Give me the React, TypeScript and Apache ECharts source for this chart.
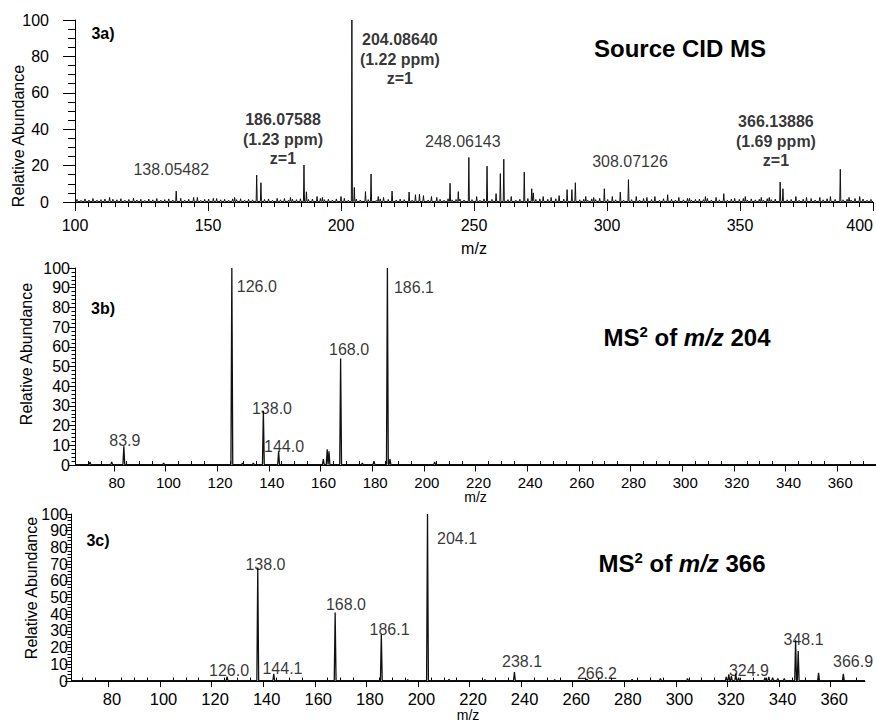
import React, { useEffect, useRef } from 'react';
import * as echarts from 'echarts';

const FONT = '"Liberation Sans", Arial, Helvetica, sans-serif';

// ---------- Panel 3a : Source CID MS ----------
const peaksA: [number, number][] = [
  [138.05, 6], [144.6, 2.5], [168.3, 14.8], [169.9, 10.6], [186.08, 20.3], [187.0, 5.6],
  [200.0, 3], [204.09, 100], [205.0, 8], [209.2, 5.7], [211.3, 15.4], [219.2, 6],
  [225.6, 5.5], [228.0, 4], [229.5, 4.2], [231.0, 3.5], [241.0, 10.3], [244.1, 5.7],
  [248.06, 24.5], [254.9, 19.7], [258.3, 4.6], [259.9, 15.6], [261.2, 23.5], [268.9, 16.5],
  [271.7, 7.3], [272.3, 5], [285.0, 6.8], [286.8, 6.8], [288.1, 10.6], [299.0, 7.3],
  [305.0, 5.5], [308.07, 12.3], [322.8, 4], [343.9, 4.6], [365.1, 11], [366.14, 7.3], [387.7, 18],
];
const minorPeaksA: [number, number][] = [
  [113, 2.5], [122, 2], [146, 2.5], [152, 2], [160, 2.5], [176, 2], [181, 2.5], [191, 3],
  [193, 2.5], [214, 3], [216, 2.5], [234, 3], [236, 2.5], [251, 3], [264, 3], [276, 3],
  [279, 2.5], [282, 3.5], [292, 3], [295, 2.5], [302, 3], [311, 3], [315, 2.5], [318, 3],
  [327, 2.5], [331, 2], [337, 3], [341, 2.5], [348, 2], [352, 3], [358, 2.5], [361, 2.5],
  [371, 3], [375, 2.5], [380, 2.5], [384, 3], [391, 2.5], [395, 3],
];
// baseline noise spikes, every 1.5 m/z from 100.75
const noiseStartA = 100.75;
const noiseStepA = 1.5;
const noiseA = [
  1.4, 0.9, 1.7, 1.1, 1.9, 1.0, 1.3, 1.6, 0.9, 1.5, 1.2, 1.8, 1.0, 1.4, 1.7, 1.1, 1.5, 0.9, 1.6, 1.2,
  1.9, 1.0, 1.3, 1.7, 1.1, 1.4, 2.0, 1.0, 1.5, 1.2, 1.8, 0.9, 1.4, 1.6, 1.1, 1.9, 1.2, 1.5, 1.0, 1.7,
  1.3, 1.8, 1.0, 1.5, 1.2, 2.1, 1.1, 1.4, 1.7, 0.9, 1.6, 1.2, 1.9, 1.0, 1.5, 1.3, 1.8, 1.1, 1.4, 1.6,
  1.0, 1.9, 1.3, 1.5, 1.1, 1.7, 1.2, 2.0, 1.0, 1.4, 1.6, 1.1, 1.8, 1.3, 1.5, 0.9, 1.7, 1.2, 1.4, 1.9,
  1.1, 1.6, 1.3, 1.8, 1.0, 1.5, 1.2, 1.7, 1.1, 2.0, 1.3, 1.5, 1.0, 1.8, 1.2, 1.4, 1.6, 1.1, 1.9, 1.3,
  1.5, 1.0, 1.7, 1.2, 1.4, 2.1, 1.1, 1.6, 1.3, 1.8, 1.0, 1.5, 1.2, 1.9, 1.1, 1.4, 1.7, 1.2, 1.5, 1.0,
  1.8, 1.3, 1.6, 1.1, 1.4, 1.9, 1.2, 1.5, 1.0, 1.7, 1.3, 2.0, 1.1, 1.4, 1.6, 1.2, 1.8, 1.0, 1.5, 1.3,
  1.7, 1.1, 1.9, 1.2, 1.4, 1.6, 1.0, 1.8, 1.3, 1.5, 1.1, 1.7, 1.2, 2.0, 1.0, 1.4, 1.6, 1.3, 1.9, 1.1,
  1.5, 1.2, 1.8, 1.0, 1.6, 1.3, 1.4, 1.9, 1.1, 1.7, 1.2, 1.5, 1.0, 1.8, 1.3, 1.6, 1.1, 2.0, 1.2, 1.4,
  1.7, 1.0, 1.5, 1.3, 1.9, 1.1, 1.6, 1.2, 1.8, 1.0, 1.4, 1.7, 1.2, 1.5, 1.1, 1.9, 1.3, 1.6, 1.0, 1.4,
];
const annA: [number, string][] = [
  [138.05, '138.05482'],
  [186.08, '186.07588\n(1.23 ppm)\nz=1'],
  [204.09, '204.08640\n(1.22 ppm)\nz=1'],
  [248.06, '248.06143'],
  [308.07, '308.07126'],
  [366.14, '366.13886\n(1.69 ppm)\nz=1'],
];
const annAOffset: [number, number][] = [[-5, -22], [-21, -25.6], [48, 39], [-6, -16], [1.5, -18.5], [-7, -47.7]];
const annABold = [false, true, true, false, false, true];

// ---------- Panel 3b : MS2 of m/z 204 ----------
const peaksB: [number, number][] = [
  [70.8, 1.5], [79.2, 1.5], [83.9, 9.5], [99.3, 1], [125.7, 100], [129.8, 1], [134, 1],
  [137.9, 27.5], [143.8, 7], [161.1, 3], [162.6, 8], [163.3, 7], [167.8, 54], [176.2, 1],
  [180.7, 2], [185.9, 100], [186.9, 3], [204.2, 1.5],
];
const annB: [number, string][] = [
  [83.9, '83.9'], [125.7, '126.0'], [137.9, '138.0'], [143.8, '144.0'], [167.8, '168.0'], [185.9, '186.1'],
];
const annBOffset: [number, number][] = [[1, -6], [25, 18], [8.6, -2], [5.4, -5], [8.4, -9.6], [26.6, 19.5]];

// ---------- Panel 3c : MS2 of m/z 366 ----------
const peaksC: [number, number][] = [
  [126.0, 2.6], [137.9, 68], [144.1, 4.4], [167.9, 41], [185.8, 28], [196, 0.8], [203.7, 100],
  [212, 1], [226, 0.8], [237.4, 5.4], [253, 0.8], [265.5, 1.2], [283, 1], [294, 1.5],
  [304.5, 1.5], [319.5, 2.5], [320.5, 4], [321.5, 3], [323.2, 4.5], [324.3, 2], [334.5, 2],
  [336, 2.5], [337.5, 2], [339.5, 1.5], [342, 1.5], [346.4, 24.5], [347.4, 18], [355.3, 5],
  [364.9, 4.4],
];
const annC: [number, string][] = [
  [126.0, '126.0'], [137.9, '138.0'], [144.1, '144.1'], [167.9, '168.0'], [185.8, '186.1'],
  [203.7, '204.1'], [237.4, '238.1'], [265.5, '266.2'], [323.2, '324.9'], [346.4, '348.1'], [364.9, '366.9'],
];
const annCOffset: [number, number][] = [
  [2, -6.3], [7.7, -2.6], [8.7, -5], [10.8, -7.7], [8.2, -4.6], [29.5, 24.5], [7.6, -10.3],
  [10, -5.8], [13.2, -2.9], [7.9, -0.4], [9.7, -12.1],
];

// axis ticks
const xTicksBC = [80, 100, 120, 140, 160, 180, 200, 220, 240, 260, 280, 300, 320, 340, 360];
const xRangeB: [number, number] = [65, 375];
const xRangeC: [number, number] = [65.5, 373.3];

function minorTicks(range: [number, number], step: number, major: number[]) {
  const out: number[] = [];
  for (let v = Math.ceil(range[0] / step) * step; v <= range[1]; v += step) {
    if (!major.includes(v)) out.push(v);
  }
  return out;
}

function buildTrace(peaks: [number, number][], hw: number, base: number, range: [number, number]) {
  const pts: number[][] = [[range[0], base], [range[1], base]];
  peaks.forEach(([m, h]) => {
    pts.push([m - hw, base], [m, h], [m + hw, base]);
  });
  pts.sort((a, b) => a[0] - b[0]);
  return pts;
}

function annSeries(ann: [number, string][], peaks: [number, number][], offsets: [number, number][], bold: boolean[] | null, xi: number, yi: number) {
  return {
    type: 'scatter',
    xAxisIndex: xi,
    yAxisIndex: yi,
    symbolSize: 1,
    itemStyle: { color: 'transparent' },
    silent: true,
    z: 5,
    label: {
      show: true,
      position: 'inside',
      fontFamily: FONT,
      fontSize: 16,
      color: '#000',
      lineHeight: 19.5,
      align: 'center',
      verticalAlign: 'middle',
    },
    data: ann.map(([mz, text], i) => {
      const pk = peaks.reduce((best, p) => (Math.abs(p[0] - mz) < Math.abs(best[0] - mz) ? p : best), peaks[0]);
      return {
        value: [pk[0], pk[1]],
        label: { formatter: text, offset: offsets[i], fontWeight: bold && bold[i] ? 'bold' : 'normal' },
      };
    }),
  };
}

const black = { color: '#000', width: 1 };

export default function App() {
  const ref = useRef<HTMLDivElement>(null);
  useEffect(() => {
    if (!ref.current) return;
    const chart = echarts.init(ref.current, null, { renderer: 'svg' });

    const noisePtsA: [number, number][] = noiseA.map((h, i) => [noiseStartA + i * noiseStepA, h]);
    const allA = [...peaksA, ...minorPeaksA];
    const noiseKeep = noisePtsA.filter(([m]) => !allA.some(([p]) => Math.abs(p - m) < 0.6));
    const traceA = buildTrace([...allA, ...noiseKeep], 0.2, 0.3, [100, 400]);
    const traceB = buildTrace(peaksB, 0.35, 0.2, xRangeB);
    const traceC = buildTrace(peaksC, 0.35, 0.2, xRangeC);

    const lblStyle = (size: number) => ({ fontFamily: FONT, fontSize: size, color: '#000' });
    const richTitle = {
      n: { fontFamily: FONT, fontSize: 24, fontWeight: 'bold', lineHeight: 26 },
      s: { fontFamily: FONT, fontSize: 15, fontWeight: 'bold', verticalAlign: 'top', lineHeight: 15 },
      i: { fontFamily: FONT, fontSize: 24, fontWeight: 'bold', fontStyle: 'italic', lineHeight: 26 },
    };

    const option: any = {
      animation: false,
      backgroundColor: '#fff',
      grid: [
        { left: 75, right: 3, top: 20, height: 182 },
        { left: 75, right: 0, top: 268, height: 197 },
        { left: 71, right: 11, top: 514, height: 180 },
      ],
      xAxis: [
        {
          gridIndex: 0, type: 'value', min: 100, max: 400, interval: 50,
          axisLine: { show: true, onZero: false, lineStyle: black },
          axisTick: { show: true, length: 9, lineStyle: black },
          minorTick: { show: true, splitNumber: 10, length: 5, lineStyle: black },
          axisLabel: { ...lblStyle(16), margin: 15, alignMaxLabel: 'right' },
          splitLine: { show: false }, minorSplitLine: { show: false },
          name: 'm/z', nameLocation: 'middle', nameGap: 38,
          nameTextStyle: lblStyle(16),
        },
        {
          gridIndex: 1, type: 'value', min: xRangeB[0], max: xRangeB[1],
          axisLine: { show: true, onZero: false, lineStyle: black },
          axisTick: { show: true, length: 6.5, lineStyle: black, customValues: xTicksBC },
          axisLabel: { ...lblStyle(15), margin: 9.5, padding: [0, 0, 0, 6], customValues: xTicksBC },
          splitLine: { show: false },
          name: 'm/z', nameLocation: 'middle', nameGap: 20,
          nameTextStyle: lblStyle(14),
        },
        {
          gridIndex: 1, type: 'value', min: xRangeB[0], max: xRangeB[1],
          axisLine: { show: false },
          axisTick: { show: true, length: 4, lineStyle: black, customValues: minorTicks(xRangeB, 5, xTicksBC) },
          axisLabel: { show: false },
          splitLine: { show: false },
        },
        {
          gridIndex: 2, type: 'value', min: xRangeC[0], max: xRangeC[1],
          axisLine: { show: true, onZero: false, lineStyle: black },
          axisTick: { show: true, length: 6, lineStyle: black, customValues: xTicksBC },
          axisLabel: { ...lblStyle(16.5), margin: 9, padding: [0, 0, 0, 7], customValues: xTicksBC },
          splitLine: { show: false },
          name: 'm/z', nameLocation: 'middle', nameGap: 21,
          nameTextStyle: lblStyle(14),
        },
        {
          gridIndex: 2, type: 'value', min: xRangeC[0], max: xRangeC[1],
          axisLine: { show: false },
          axisTick: { show: true, length: 3.5, lineStyle: black, customValues: minorTicks(xRangeC, 5, xTicksBC) },
          axisLabel: { show: false },
          splitLine: { show: false },
        },
      ],
      yAxis: [
        {
          gridIndex: 0, type: 'value', min: 0, max: 100, interval: 20,
          axisLine: { show: true, lineStyle: black },
          axisTick: { show: true, length: 12, lineStyle: black },
          minorTick: { show: true, splitNumber: 4, length: 7, lineStyle: black },
          axisLabel: { ...lblStyle(16), margin: 26 },
          splitLine: { show: false }, minorSplitLine: { show: false },
        },
        {
          gridIndex: 1, type: 'value', min: 0, max: 100, interval: 10,
          axisLine: { show: true, lineStyle: black },
          axisTick: { show: true, length: 6, lineStyle: black },
          minorTick: { show: true, splitNumber: 5, length: 3.5, lineStyle: black },
          axisLabel: { ...lblStyle(16), margin: 5, padding: [14, 0, 0, 0] },
          splitLine: { show: false }, minorSplitLine: { show: false },
        },
        {
          gridIndex: 2, type: 'value', min: 0, max: 100, interval: 10,
          axisLine: { show: true, lineStyle: black },
          axisTick: { show: true, length: 6, lineStyle: black },
          minorTick: { show: true, splitNumber: 5, length: 3.5, lineStyle: black },
          axisLabel: { ...lblStyle(16), margin: 3, padding: [14, 0, 0, 0] },
          splitLine: { show: false }, minorSplitLine: { show: false },
        },
      ],
      series: [
        { type: 'line', xAxisIndex: 0, yAxisIndex: 0, data: traceA, symbol: 'none', silent: true, lineStyle: { color: '#111', width: 1 } },
        { type: 'line', xAxisIndex: 1, yAxisIndex: 1, data: traceB, symbol: 'none', silent: true, lineStyle: { color: '#111', width: 1.3 } },
        { type: 'line', xAxisIndex: 3, yAxisIndex: 2, data: traceC, symbol: 'none', silent: true, lineStyle: { color: '#111', width: 1.3 } },
        annSeries(annA, peaksA, annAOffset, annABold, 0, 0),
        annSeries(annB, peaksB, annBOffset, null, 1, 1),
        annSeries(annC, peaksC, annCOffset, null, 3, 2),
      ],
      graphic: [
        { type: 'text', x: 103, y: 33, style: { text: '3a)', fontFamily: FONT, fontSize: 16, fontWeight: 'bold', fill: '#000', align: 'center', verticalAlign: 'middle' } },
        { type: 'text', x: 103, y: 308, style: { text: '3b)', fontFamily: FONT, fontSize: 16, fontWeight: 'bold', fill: '#000', align: 'center', verticalAlign: 'middle' } },
        { type: 'text', x: 98, y: 540, style: { text: '3c)', fontFamily: FONT, fontSize: 16, fontWeight: 'bold', fill: '#000', align: 'center', verticalAlign: 'middle' } },
        { type: 'text', x: 18, y: 136, rotation: Math.PI / 2, style: { text: 'Relative Abundance', fontFamily: FONT, fontSize: 16, fill: '#000', align: 'center', verticalAlign: 'middle' } },
        { type: 'text', x: 26, y: 354, rotation: Math.PI / 2, style: { text: 'Relative Abundance', fontFamily: FONT, fontSize: 16, fill: '#000', align: 'center', verticalAlign: 'middle' } },
        { type: 'text', x: 31, y: 588, rotation: Math.PI / 2, style: { text: 'Relative Abundance', fontFamily: FONT, fontSize: 16, fill: '#000', align: 'center', verticalAlign: 'middle' } },
        { type: 'text', x: 680, y: 48, style: { text: 'Source CID MS', fontFamily: FONT, fontSize: 24, fontWeight: 'bold', fill: '#000', align: 'center', verticalAlign: 'middle' } },
        {
          type: 'text', x: 687, y: 337,
          style: { text: '{n|MS}{s|2}{n| of }{i|m/z}{n| 204}', fill: '#000', align: 'center', verticalAlign: 'middle', rich: richTitle },
        },
        {
          type: 'text', x: 682, y: 563,
          style: { text: '{n|MS}{s|2}{n| of }{i|m/z}{n| 366}', fill: '#000', align: 'center', verticalAlign: 'middle', rich: richTitle },
        },
      ],
    };
    chart.setOption(option);
    return () => chart.dispose();
  }, []);
  return <div ref={ref} style={{ position: 'fixed', left: 0, top: 0, width: 876, height: 723, background: '#fff' }} />;
}
